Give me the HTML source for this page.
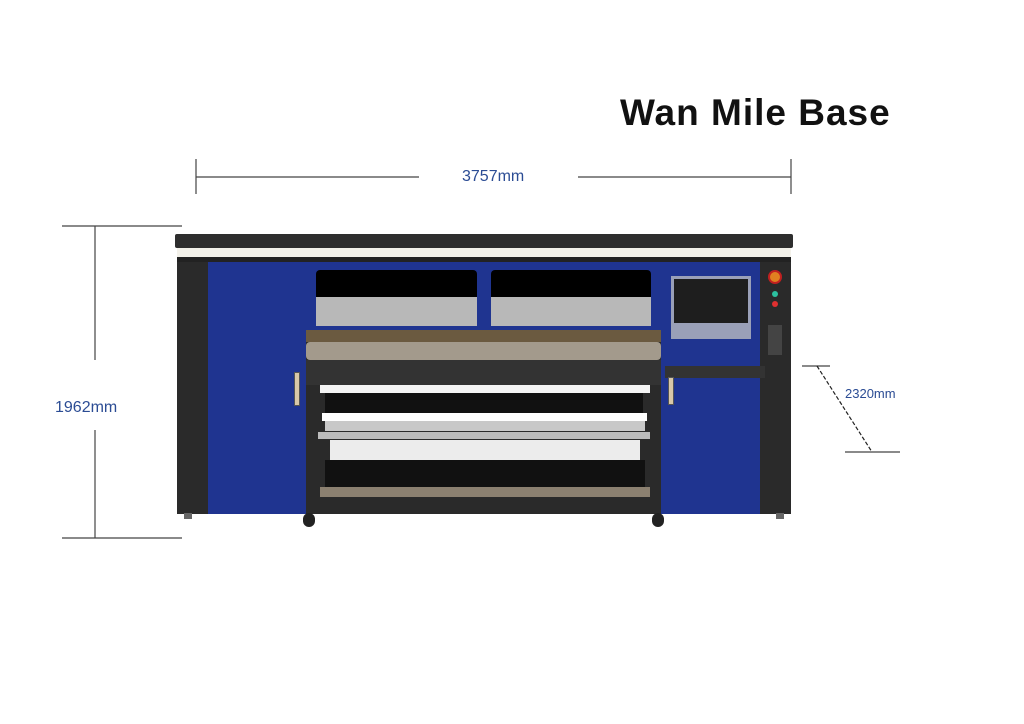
<!DOCTYPE html>
<html><head><meta charset="utf-8"><style>
body{margin:0;width:1024px;height:724px;background:#fff;position:relative;overflow:hidden;font-family:"Liberation Sans",sans-serif}
div{position:absolute;box-sizing:border-box}
.t{color:#2b4c94;font-size:16px;white-space:nowrap}
</style></head><body>
<div style="left:620px;top:92px;font-size:37px;font-weight:bold;color:#111;white-space:nowrap;letter-spacing:1px">Wan Mile Base</div>
<svg width="1024" height="724" style="position:absolute;left:0;top:0" stroke="#444" stroke-width="1.2">
<line x1="196" y1="177" x2="419" y2="177"/><line x1="578" y1="177" x2="791" y2="177"/>
<line x1="196" y1="159" x2="196" y2="194"/><line x1="791" y1="159" x2="791" y2="194"/>
<line x1="95" y1="226" x2="95" y2="360"/><line x1="95" y1="430" x2="95" y2="538"/>
<line x1="62" y1="226" x2="182" y2="226"/><line x1="62" y1="538" x2="182" y2="538"/>
<line x1="802" y1="366" x2="830" y2="366"/><line x1="845" y1="452" x2="900" y2="452"/>
<line x1="817" y1="366" x2="872" y2="452" stroke-dasharray="4,2" stroke="#222"/>
</svg>
<div class="t" style="left:462px;top:168px">3757mm</div>
<div class="t" style="left:55px;top:399px">1962mm</div>
<div class="t" style="left:845px;top:386px;font-size:13px">2320mm</div>
<!-- printer -->
<div style="left:175px;top:234px;width:618px;height:14px;background:#2e2e2e;border-radius:2px"></div>
<div style="left:177px;top:248px;width:614px;height:9px;background:#f3f1ea"></div>
<div style="left:177px;top:257px;width:614px;height:6px;background:#222"></div>
<div style="left:177px;top:262px;width:31px;height:252px;background:#2a2a2a"></div>
<div style="left:208px;top:262px;width:98px;height:252px;background:#1f3490"></div>
<div style="left:294px;top:372px;width:6px;height:34px;background:#d8c8a8;border:1px solid #555"></div>
<div style="left:306px;top:262px;width:355px;height:252px;background:#2a2a2a"></div>
<div style="left:306px;top:262px;width:355px;height:70px;background:#1f3490"></div>
<div style="left:316px;top:270px;width:161px;height:56px;background:#000;border-radius:4px"></div>
<div style="left:491px;top:270px;width:160px;height:56px;background:#000;border-radius:4px"></div>
<div style="left:316px;top:297px;width:161px;height:29px;background:#b8b8b8"></div>
<div style="left:491px;top:297px;width:160px;height:29px;background:#b8b8b8"></div>
<div style="left:306px;top:330px;width:355px;height:12px;background:#6b5a40"></div>
<div style="left:306px;top:342px;width:355px;height:18px;background:#a39a8c;border-radius:4px"></div>
<div style="left:306px;top:360px;width:355px;height:25px;background:#333"></div>
<div style="left:320px;top:385px;width:330px;height:8px;background:#f4f4f4"></div>
<div style="left:325px;top:393px;width:318px;height:20px;background:#111"></div>
<div style="left:322px;top:413px;width:325px;height:8px;background:#fff"></div>
<div style="left:325px;top:421px;width:320px;height:10px;background:#c8c8c8"></div>
<div style="left:318px;top:432px;width:332px;height:7px;background:#bbb"></div>
<div style="left:330px;top:440px;width:310px;height:20px;background:#ececec"></div>
<div style="left:325px;top:460px;width:320px;height:27px;background:#111"></div>
<div style="left:320px;top:487px;width:330px;height:10px;background:#8b8070"></div>
<div style="left:303px;top:513px;width:12px;height:14px;background:#222;border-radius:6px"></div>
<div style="left:652px;top:513px;width:12px;height:14px;background:#222;border-radius:6px"></div>
<div style="left:661px;top:262px;width:99px;height:252px;background:#1f3490"></div>
<div style="left:671px;top:276px;width:80px;height:63px;background:#9aa0b8;padding:3px"><div style="left:3px;top:3px;width:74px;height:44px;background:#1e1e1e"></div></div>
<div style="left:760px;top:262px;width:31px;height:252px;background:#2a2a2a"></div>
<div style="left:665px;top:366px;width:100px;height:12px;background:#333"></div>
<div style="left:668px;top:377px;width:6px;height:28px;background:#d8c8a8;border:1px solid #555"></div>
<div style="left:768px;top:270px;width:14px;height:14px;background:#e08020;border-radius:50%;border:2px solid #c02020"></div>
<div style="left:772px;top:291px;width:6px;height:6px;background:#2cc0a0;border-radius:50%"></div>
<div style="left:772px;top:301px;width:6px;height:6px;background:#e03030;border-radius:50%"></div>
<div style="left:768px;top:325px;width:14px;height:30px;background:#444"></div>
<div style="left:184px;top:513px;width:8px;height:6px;background:#666"></div>
<div style="left:776px;top:513px;width:8px;height:6px;background:#666"></div>
</body></html>
